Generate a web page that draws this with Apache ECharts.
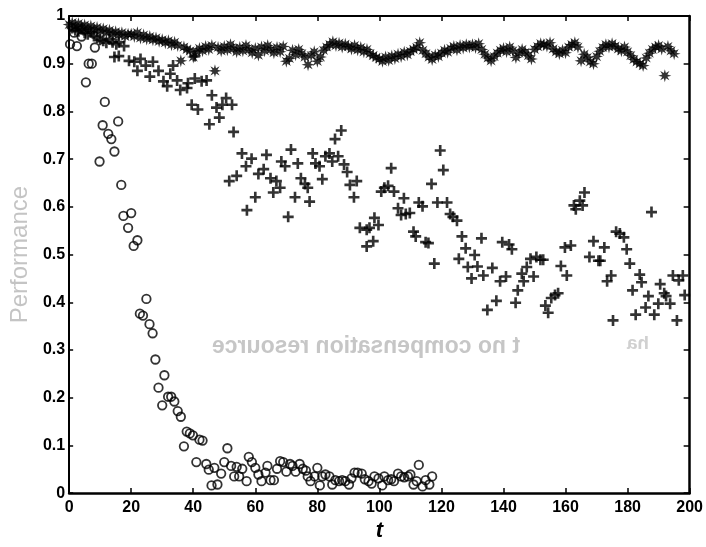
<!DOCTYPE html>
<html>
<head>
<meta charset="utf-8">
<script src="https://cdn.jsdelivr.net/npm/echarts@6/dist/echarts.min.js"></script>
<style>
  html, body { margin: 0; padding: 0; background: #fff; }
  #chart { width: 706px; height: 547px; }
</style>
</head>
<body>
<div id="chart"></div>
<script>
// x ticks / y ticks
var xTicks = [0, 20, 40, 60, 80, 100, 120, 140, 160, 180, 200];
var yTicks = [0, 0.1, 0.2, 0.3, 0.4, 0.5, 0.6, 0.7, 0.8, 0.9, 1];

// asterisks: one value per t, t = 0..195
var starV = [
  .982,.986,.978,.984,.976,.981,.973,.979,.971,.976,
  .968,.973,.965,.970,.962,.967,.960,.965,.957,.962,
  .962,.957,.965,.954,.960,.952,.957,.950,.954,.947,
  .950,.944,.948,.940,.945,.938,.906,.935,.930,.927,
  .914,.925,.932,.927,.936,.930,.938,.885,.934,.927,
  .936,.929,.940,.932,.925,.934,.927,.938,.930,.923,
  .932,.918,.935,.927,.938,.930,.923,.934,.925,.936,
  .905,.911,.928,.919,.930,.921,.914,.898,.917,.925,
  .905,.914,.928,.935,.940,.946,.938,.943,.935,.941,
  .936,.931,.938,.929,.934,.925,.930,.921,.917,.913,
  .910,.905,.914,.907,.916,.911,.920,.915,.924,.919,
  .926,.930,.934,.944,.928,.921,.914,.909,.918,.915,
  .922,.928,.924,.932,.936,.929,.938,.933,.940,.935,
  .940,.934,.942,.930,.920,.912,.906,.915,.922,.928,
  .932,.925,.935,.927,.913,.922,.930,.924,.917,.910,
  .930,.936,.942,.940,.937,.944,.931,.925,.921,.928,
  .923,.935,.940,.944,.935,.906,.920,.913,.904,.900,
  .915,.926,.934,.940,.935,.942,.937,.931,.927,.935,
  .925,.917,.909,.904,.900,.896,.912,.922,.930,.935,
  .938,.931,.875,.936,.927,.921
];

// pluses
var plusT = [1,2,3,4,5,6,7,8,9,10,11,12,13,14,15.2,16,17.7,14.6,16,
  19.3,21,22,23,24.7,26,27,28.8,30.4,31.6,32.6,33.5,34.8,35.8,38,38.3,39.5,40.5,40.5,41.5,42.7,44.3,
  45.2,46,47.5,48.4,49.4,50.6,51.6,52.5,53,54,55.7,57,57.3,58.8,60,61,62.7,63.6,64.9,65.8,66.8,68,
  68.4,69.6,70.6,71.5,72.8,73.7,74.7,76,76.9,77.5,78.5,79.4,80.7,81.6,82.6,83.9,84.8,85.7,86.7,87.7,
  88.6,89.6,90.5,91.8,92.7,93.7,95.9,95.9,96.8,98,98.4,99.7,100.6,101.6,102.8,103.8,104.7,106,107,
  107.9,108.5,109.8,111,111.7,112.7,113.9,114.9,115.8,116.8,117.7,118.7,119.6,120.6,121.8,122.8,
  123.7,125,125.6,126.6,127.8,128.5,129.7,130.7,131.6,132.9,133.5,134.8,136.4,137.7,138.9,139.6,
  140.8,141.8,142.7,143.9,144.6,145.9,146.5,147.5,148.7,149.7,150.6,151.9,152.8,153.5,154.4,155.4,
  156.6,157.6,158.5,159.8,160.4,161.7,162.7,163.3,164.6,165.5,166.1,167.7,169,170.6,171.2,172.5,
  173.4,174.7,175.3,176.3,177.5,178.8,179.7,180.7,181.6,182.6,183.9,184.5,185.8,186.7,187.7,188.6,
  189.9,190.5,191.8,192.4,193.7,194.6,195.9,196.5,197.8,198.4];
var plusV = [.975,.970,.968,.972,.965,.962,.966,.958,.955,.950,.948,.944,.951,.945,.941,.945,.937,.914,.916,
  .906,.904,.885,.910,.896,.873,.904,.885,.863,.853,.879,.896,.865,.845,.849,.859,.814,.869,.916,.804,.863,.865,
  .773,.834,.808,.787,.814,.828,.654,.814,.757,.665,.712,.685,.593,.701,.620,.669,.679,.709,.660,.630,.654,.640,
  .695,.685,.579,.720,.620,.691,.660,.648,.640,.611,.712,.691,.685,.658,.706,.712,.695,.742,.706,.760,
  .689,.673,.646,.620,.654,.556,.552,.517,.556,.528,.577,.562,.632,.640,.644,.681,.632,.597,.583,
  .618,.585,.587,.548,.538,.609,.601,.526,.524,.648,.481,.609,.718,.677,.609,.585,
  .579,.571,.491,.538,.513,.474,.450,.499,.475,.534,.456,.384,.472,.403,.444,.526,
  .454,.521,.511,.399,.425,.460,.444,.474,.491,.454,.495,.489,.489,.393,.378,.409,
  .415,.419,.476,.515,.456,.519,.603,.595,.613,.603,.630,.495,.528,.487,.487,.515,
  .444,.456,.362,.548,.544,.536,.511,.481,.425,.374,.458,.442,.389,.413,.589,.374,
  .397,.438,.419,.413,.397,.456,.362,.446,.456,.415];

// circles
var circleT = [0.3,1.6,2.5,4,5.4,6.3,7.3,8.3,9.8,10.8,11.5,12.6,13.6,14.6,15.8,16.8,17.5,19,20,20.8,22,22.8,
  23.8,24.9,25.9,26.9,27.8,28.8,30,30.7,31.9,32.9,33.9,35,36,37,37.9,38.9,39.9,41,42,43,44.2,45,45.9,46.8,
  47.8,49,50,51,52.2,53.2,54,54.8,55.8,57.2,57.9,58.9,60,61,62,63.3,63.9,64.9,66,67,68,69,70,71.2,72,73,
  74.3,75.3,76.3,76.9,77.8,79.1,80,80.8,81.6,82.6,83.9,84.8,85.8,87,88,89,90.2,91,92,93,94.3,95.3,96.5,
  97.5,98.4,99.7,100.9,101.6,102.8,103.8,104.7,106,107,108,109.2,110,111,112,112.7,113.9,114.9,116.1,117];
var circleV = [.941,.965,.937,.957,.861,.900,.900,.934,.695,.771,.820,.753,.742,.716,.779,.646,.581,.556,.587,.518,.530,.376,
  .372,.407,.354,.335,.280,.221,.184,.247,.202,.202,.192,.172,.160,.098,.129,.125,.121,.065,.112,.110,.061,.049,.016,.053,
  .018,.041,.065,.094,.057,.035,.055,.035,.051,.025,.076,.065,.053,.039,.025,.043,.057,.027,.027,.051,.067,.065,.045,.061,.057,.045,
  .061,.051,.047,.035,.025,.035,.053,.016,.035,.039,.035,.018,.027,.025,.027,.025,.018,.031,.043,.043,.041,.029,.025,
  .020,.035,.031,.016,.035,.027,.029,.025,.041,.035,.033,.035,.039,.018,.025,.059,.014,.027,.018,.035];

function pairs(ts, vs) {
  return ts.map(function (t, i) { return [t, vs[i]]; });
}

// 8-armed asterisk shape
function starPath() {
  var d = '';
  for (var i = 0; i < 16; i++) {
    var r = i % 2 ? 2.1 : 5;
    var a = i * Math.PI / 8 - Math.PI / 2;
    d += (i ? 'L' : 'M') + (5 + r * Math.cos(a)).toFixed(2) + ' ' + (5 + r * Math.sin(a)).toFixed(2);
  }
  return 'path://' + d + 'Z';
}
var plusPath = 'path://M3.8,0H6.2V3.8H10V6.2H6.2V10H3.8V6.2H0V3.8H3.8Z';

var labelFont = { color: '#000', fontFamily: 'Liberation Sans', fontWeight: 'bold', fontSize: 16 };

var chart = echarts.init(document.getElementById('chart'));
chart.setOption({
  backgroundColor: '#fff',
  animation: false,
  grid: { left: 62, right: 13, top: 16, bottom: 42 },
  xAxis: [
    {
      type: 'value', min: 0, max: 200, interval: 20,
      name: 't', nameLocation: 'middle', nameGap: 25,
      nameTextStyle: { color: '#000', fontFamily: 'Liberation Sans', fontWeight: 'bold', fontStyle: 'italic', fontSize: 22 },
      axisLine: { show: true, lineStyle: { color: '#000', width: 2.5 } },
      axisTick: { show: true, inside: true, length: 5, lineStyle: { color: '#000', width: 1.5 } },
      axisLabel: Object.assign({ margin: 6 }, labelFont),
      splitLine: { show: false }
    },
    {
      type: 'value', min: 0, max: 200, interval: 20, position: 'top',
      axisLine: { show: true, onZero: false, lineStyle: { color: '#000', width: 2 } },
      axisTick: { show: true, inside: true, length: 5, lineStyle: { color: '#000', width: 1.5 } },
      axisLabel: { show: false },
      splitLine: { show: false }
    }
  ],
  yAxis: [
    {
      type: 'value', min: 0, max: 1, interval: 0.1,
      name: 'Performance', nameLocation: 'middle', nameGap: 30, nameRotate: 90,
      nameTextStyle: { color: '#c4c4c4', fontFamily: 'Liberation Sans', fontSize: 24 },
      axisLine: { show: true, lineStyle: { color: '#000', width: 2 } },
      axisTick: { show: true, inside: true, length: 4, lineStyle: { color: '#000', width: 1.5 } },
      axisLabel: Object.assign({ margin: 4 }, labelFont),
      splitLine: { show: false }
    },
    {
      type: 'value', min: 0, max: 1, interval: 0.1, position: 'right',
      axisLine: { show: true, onZero: false, lineStyle: { color: '#000', width: 2.5 } },
      axisTick: { show: true, inside: true, length: 6, lineStyle: { color: '#000', width: 1.5 } },
      axisLabel: { show: false },
      splitLine: { show: false }
    }
  ],
  graphic: [
    // faint mirrored show-through text from the back of the page
    {
      type: 'text', x: 366, y: 347, scaleX: -1, silent: true,
      style: { text: 't no compensation resource', fill: '#c6c6c6', fontFamily: 'Liberation Sans',
               fontWeight: 'bold', fontSize: 23, textAlign: 'center', textVerticalAlign: 'middle' }
    },
    {
      type: 'text', x: 638, y: 344, scaleX: -1, silent: true,
      style: { text: 'ha', fill: '#d0d0d0', fontFamily: 'Liberation Sans',
               fontWeight: 'bold', fontSize: 19, textAlign: 'center', textVerticalAlign: 'middle' }
    }
  ],
  series: [
    {
      type: 'scatter', name: 'asterisk',
      data: starV.map(function (v, i) { return [i, v]; }),
      symbol: starPath(), symbolSize: 13,
      itemStyle: { color: '#000' }
    },
    {
      type: 'scatter', name: 'plus',
      data: pairs(plusT, plusV),
      symbol: plusPath, symbolSize: 11,
      itemStyle: { color: '#000' }
    },
    {
      type: 'scatter', name: 'circle',
      data: pairs(circleT, circleV),
      symbol: 'circle', symbolSize: 8.5,
      itemStyle: { color: 'rgba(255,255,255,0)', borderColor: '#000', borderWidth: 1.8 }
    }
  ]
});
</script>
</body>
</html>
